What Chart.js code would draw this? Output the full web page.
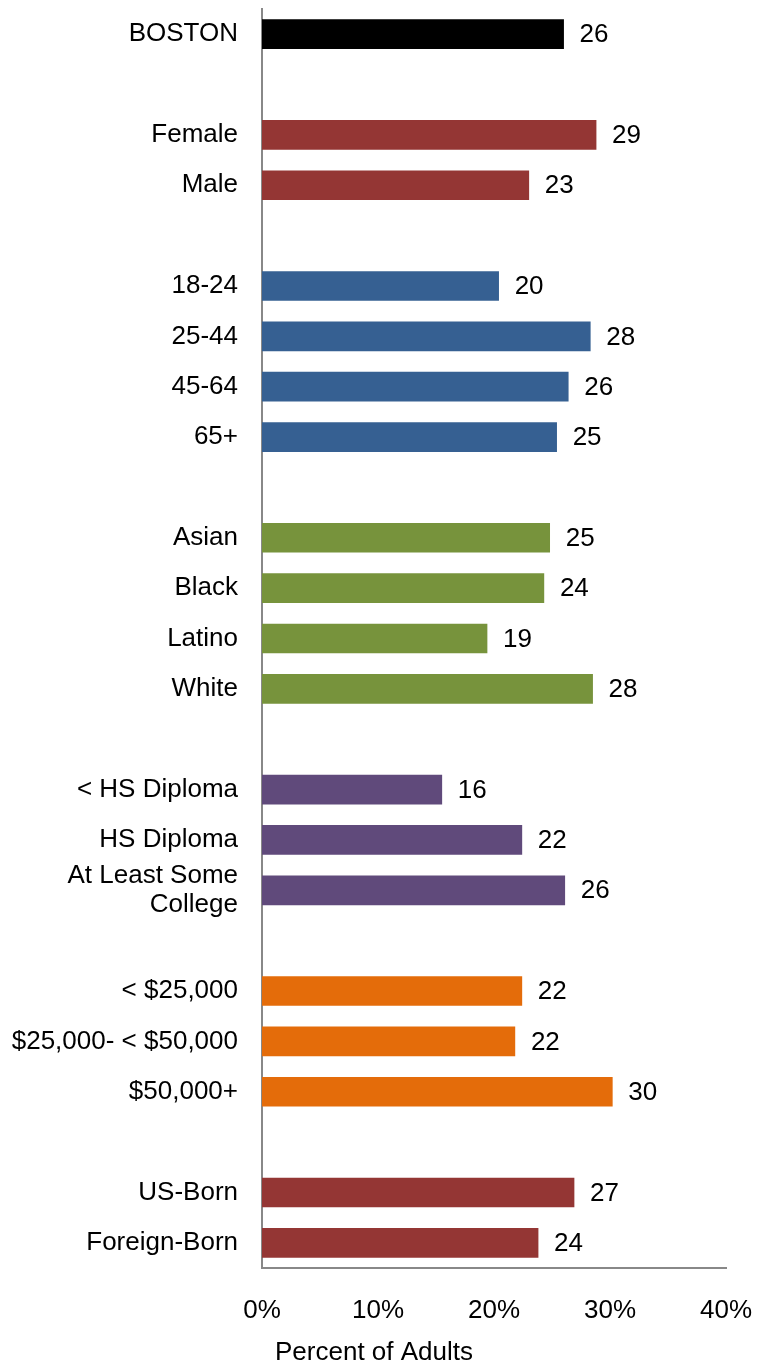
<!DOCTYPE html>
<html>
<head>
<meta charset="utf-8">
<script src="https://cdn.jsdelivr.net/npm/chart.js@4/dist/chart.umd.min.js"></script>
<style>
  html, body { margin: 0; padding: 0; background: #fff; }
  canvas { display: block; }
</style>
</head>
<body>
<canvas id="chart" width="762" height="1364"></canvas>
<script>
// categories (empty strings are the gaps between groups)
const categories = [
  'BOSTON', '',
  'Female', 'Male', '',
  '18-24', '25-44', '45-64', '65+', '',
  'Asian', 'Black', 'Latino', 'White', '',
  '< HS Diploma', 'HS Diploma', ['At Least Some', 'College'], '',
  '< $25,000', '$25,000- < $50,000', '$50,000+', '',
  'US-Born', 'Foreign-Born'
];

// percent of adults
const values = [
  26, null,
  28.8, 23, null,
  20.4, 28.3, 26.4, 25.4, null,
  24.8, 24.3, 19.4, 28.5, null,
  15.5, 22.4, 26.1, null,
  22.4, 21.8, 30.2, null,
  26.9, 23.8
];

// printed value labels
const valueLabels = [
  '26', '',
  '29', '23', '',
  '20', '28', '26', '25', '',
  '25', '24', '19', '28', '',
  '16', '22', '26', '',
  '22', '22', '30', '',
  '27', '24'
];

const xTicks = [0, 10, 20, 30, 40];

const groupColors = {
  total: '#000000',
  gender: '#943634',
  age: '#366092',
  race: '#77933c',
  edu: '#604a7b',
  income: '#e46c0a',
  nativity: '#943634'
};
const barGroups = [
  'total', null,
  'gender', 'gender', null,
  'age', 'age', 'age', 'age', null,
  'race', 'race', 'race', 'race', null,
  'edu', 'edu', 'edu', null,
  'income', 'income', 'income', null,
  'nativity', 'nativity'
];

const FONT = 'Liberation Sans, Arial, Helvetica, sans-serif';
const FONT_SIZE = 26;

function noScalePadding(scale) {
  scale.paddingTop = 0;
  scale.paddingBottom = 0;
  scale.paddingLeft = 0;
  scale.paddingRight = 0;
}

const valueLabelPlugin = {
  id: 'valueLabels',
  afterDatasetsDraw(chart) {
    const ctx = chart.ctx;
    const meta = chart.getDatasetMeta(0);
    ctx.save();
    ctx.font = FONT_SIZE + 'px ' + FONT;
    ctx.fillStyle = '#000';
    ctx.textAlign = 'left';
    ctx.textBaseline = 'middle';
    meta.data.forEach((bar, i) => {
      if (values[i] == null) return;
      ctx.fillText(valueLabels[i], bar.x + 16, bar.y + 1);
    });
    ctx.restore();
  }
};

const axisTitlePlugin = {
  id: 'axisTitle',
  afterDraw(chart) {
    const ctx = chart.ctx;
    ctx.save();
    ctx.font = FONT_SIZE + 'px ' + FONT;
    ctx.fillStyle = '#000';
    ctx.textAlign = 'center';
    ctx.textBaseline = 'middle';
    ctx.fillText('Percent of Adults', 374, 1353);
    ctx.restore();
  }
};

new Chart(document.getElementById('chart').getContext('2d'), {
  type: 'bar',
  data: {
    labels: categories,
    datasets: [{
      data: values,
      backgroundColor: barGroups.map(g => g ? groupColors[g] : 'transparent'),
      barThickness: 29,
      borderWidth: 0
    }]
  },
  options: {
    indexAxis: 'y',
    responsive: false,
    animation: false,
    layout: { padding: { top: 9, right: 36, bottom: 0, left: 0 } },
    plugins: {
      legend: { display: false },
      tooltip: { enabled: false }
    },
    scales: {
      x: {
        min: 0,
        max: 40,
        afterBuildTicks: (scale) => { scale.ticks = xTicks.map(v => ({ value: v })); },
        afterFit: (scale) => { scale.height = 96; noScalePadding(scale); },
        grid: { display: false, drawTicks: false },
        border: { display: true, color: '#888888', width: 2 },
        ticks: {
          padding: 27,
          color: '#000',
          font: { family: FONT, size: FONT_SIZE },
          callback: (v) => v + '%',
          maxRotation: 0
        }
      },
      y: {
        afterFit: (scale) => { scale.width = 262; noScalePadding(scale); },
        grid: { display: false, drawTicks: false },
        border: { display: true, color: '#888888', width: 2 },
        ticks: {
          padding: 24,
          color: '#000',
          autoSkip: false,
          font: { family: FONT, size: FONT_SIZE, lineHeight: 1.15 }
        }
      }
    }
  },
  plugins: [valueLabelPlugin, axisTitlePlugin]
});
</script>
</body>
</html>
